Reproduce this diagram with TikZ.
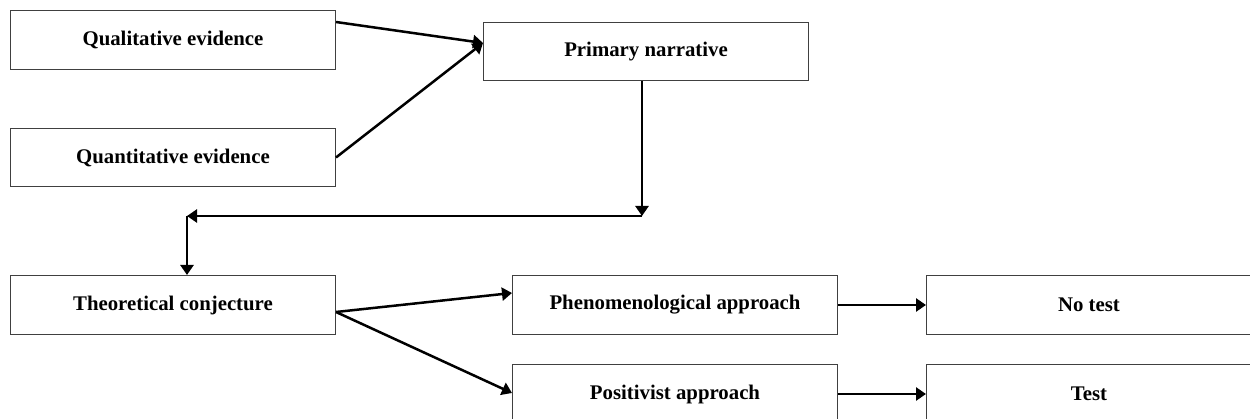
\documentclass[tikz,border=0pt]{standalone}
\usepackage{fontspec}
\setmainfont{Liberation Serif}
\usetikzlibrary{arrows.meta}
\begin{document}
\begin{tikzpicture}[x=1pt,y=-1pt,
  box/.style={draw=black!75, line width=1pt, minimum width=325pt, minimum height=59pt,
    inner sep=0pt, anchor=north west, font=\fontsize{20.8}{24}\selectfont\bfseries},
  link/.style={line width=2.5pt, -{Triangle[length=10pt,width=13pt]}}]
\useasboundingbox (0,0) rectangle (1250,419);

% boxes
\node[box] (qual) at (10,10) {Qualitative evidence};
\node[box, minimum height=58pt] (quant) at (10,128) {Quantitative evidence};
\node[box, minimum height=58pt] (prim) at (483,22) {Primary narrative};
\node[box] (theo) at (10,275) {Theoretical conjecture};
\node[box] (phen) at (512,275) {Phenomenological approach};
\node[box] (posi) at (512,364) {Positivist approach};
\node[box, minimum width=328pt] (notest) at (926,275) {\hspace*{-3pt}No test};
\node[box, minimum width=328pt] (test) at (926,364) {\hspace*{-3pt}Test};

% bends of the elbow connector
\coordinate (bend) at (642,216);
\coordinate (corner) at (187,216);

% connectors
\draw[link] ([yshift=-12pt]qual.north east) -- ([yshift=-21pt]prim.north west);
\draw[link] (quant.east) -- ([yshift=-21pt]prim.north west);
\draw[link] (prim.south -| bend) -- (bend);
\draw[link] (bend) -- (corner);
\draw[link] (corner) -- (corner |- theo.north);
\draw[link] ([yshift=-7pt]theo.east) -- ([yshift=12pt]phen.west);
\draw[link] ([yshift=-7pt]theo.east) -- ([yshift=1pt]posi.west);
\draw[link] (phen.east) -- (notest.west);
\draw[link] (posi.east) -- (test.west);
\end{tikzpicture}
\end{document}
